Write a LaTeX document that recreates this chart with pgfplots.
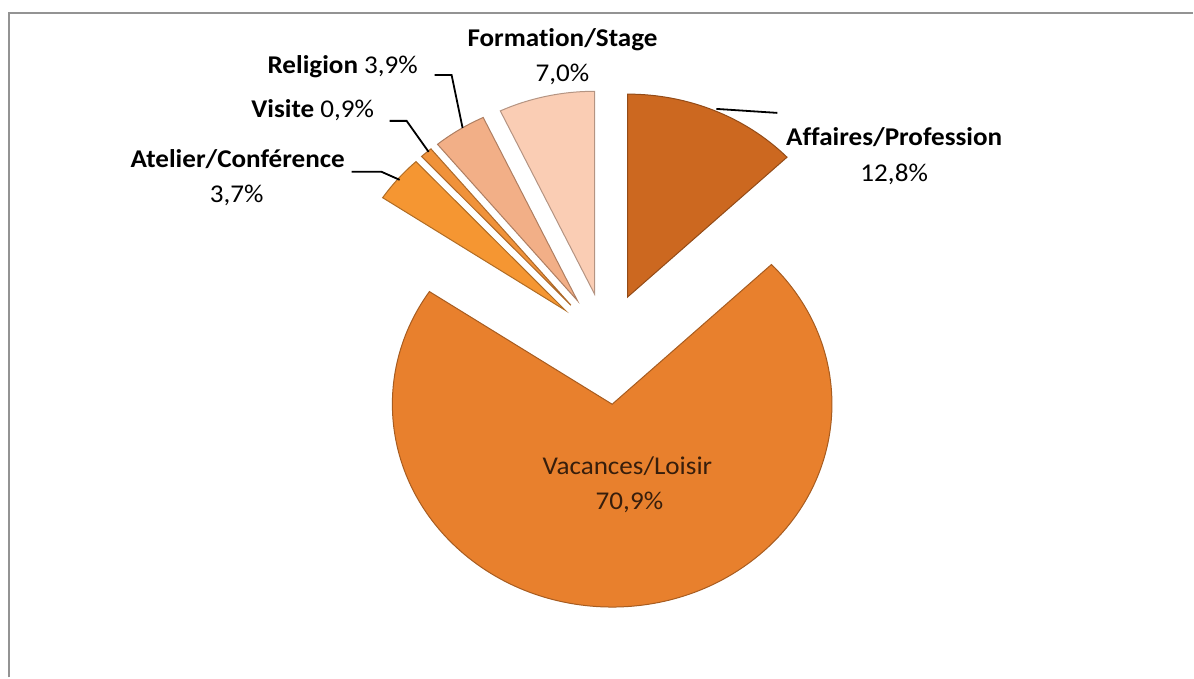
\documentclass[border=0pt]{standalone}
\usepackage{fontspec}
\setmainfont{Carlito}[FakeStretch=1.06, Ligatures=NoCommon]
\usepackage{pgfplots}
\usepackage{pgfplotstable}
\pgfplotsset{compat=1.18}

\definecolor{cAff}{RGB}{204,104,32}
\definecolor{cVac}{RGB}{232,128,45}
\definecolor{cAte}{RGB}{245,150,50}
\definecolor{cVis}{RGB}{240,146,58}
\definecolor{cRel}{RGB}{242,175,135}
\definecolor{cFor}{RGB}{250,205,180}
\definecolor{vactext}{RGB}{55,30,12}

% share (%), explosion (px), colour
\pgfplotstableread{
value explode col
12.8 54 cAff
70.9 67 cVac
3.7 54 cAte
0.9 54 cVis
3.9 54 cRel
7.0 54 cFor
}\piedata

\begin{document}
\begin{tikzpicture}[lbl/.style={font=\fontsize{12.8}{15}\selectfont, inner sep=0pt, anchor=base}]
\begin{axis}[
    x=0.5pt, y=0.5pt,
    xmin=0, xmax=1194, ymin=0, ymax=678,
    y dir=reverse,
    hide axis, clip=false,
  ]
  \path (axis cs:0,0) rectangle (axis cs:1194,678);
  \draw[gray!85, line width=1.1pt] (axis cs:9,678) -- (axis cs:9,13) -- (axis cs:1194,13);

  \def\cx{607}\def\cy{343}
  \def\total{0}
  \pgfplotsforeachungrouped \i in {0,...,5}{%
    \pgfplotstablegetelem{\i}{value}\of\piedata
    \pgfmathsetmacro\total{\total+\pgfplotsretval}%
  }
  \def\cum{0}
  \pgfplotsforeachungrouped \i in {0,...,5}{%
    \pgfplotstablegetelem{\i}{value}\of\piedata \let\v\pgfplotsretval
    \pgfplotstablegetelem{\i}{explode}\of\piedata \let\ex\pgfplotsretval
    \pgfplotstablegetelem{\i}{col}\of\piedata \let\cl\pgfplotsretval
    \pgfmathsetmacro\aS{90-\cum/\total*360}%
    \pgfmathsetmacro\cum{\cum+\v}%
    \pgfmathsetmacro\aE{90-\cum/\total*360}%
    \pgfmathsetmacro\aM{(\aS+\aE)/2}%
    \pgfmathsetmacro\ox{\cx+\ex*cos(\aM)}%
    \pgfmathsetmacro\oy{\cy-\ex*0.923*sin(\aM)}%
    \edef\temp{\noexpand\fill[fill=\cl, draw=\cl!72!black, line width=0.5pt]
      (axis cs:\ox,\oy) -- ++(\aS:110pt and 101.5pt)
      arc[start angle=\aS, end angle=\aE, x radius=110pt, y radius=101.5pt] -- cycle;}%
    \temp
  }

  % leader lines
  \draw[line width=0.9pt] (axis cs:717,109) -- (axis cs:778,113);
  \draw[line width=0.9pt] (axis cs:435,75) -- (axis cs:452,75) -- (axis cs:463,128);
  \draw[line width=0.9pt] (axis cs:390,121) -- (axis cs:407,121) -- (axis cs:429,152);
  \draw[line width=0.9pt] (axis cs:352,172) -- (axis cs:382,172) -- (axis cs:400,180);

  % labels
  \node[lbl] at (axis cs:563,47) {\textbf{Formation/Stage}};
  \node[lbl] at (axis cs:563,82) {7,0\%};
  \node[lbl] at (axis cs:343,74) {\textbf{Religion} 3,9\%};
  \node[lbl] at (axis cs:313,118) {\textbf{Visite} 0,9\%};
  \node[lbl] at (axis cs:238,168) {\textbf{Atelier/Conférence}};
  \node[lbl] at (axis cs:237,203) {3,7\%};
  \node[lbl] at (axis cs:895,146) {\textbf{Affaires/Profession}};
  \node[lbl] at (axis cs:895,182) {12,8\%};
  \node[lbl, text=vactext] at (axis cs:628,475) {Vacances/Loisir};
  \node[lbl, text=vactext] at (axis cs:630,510) {70,9\%};
\end{axis}
\end{tikzpicture}
\end{document}
